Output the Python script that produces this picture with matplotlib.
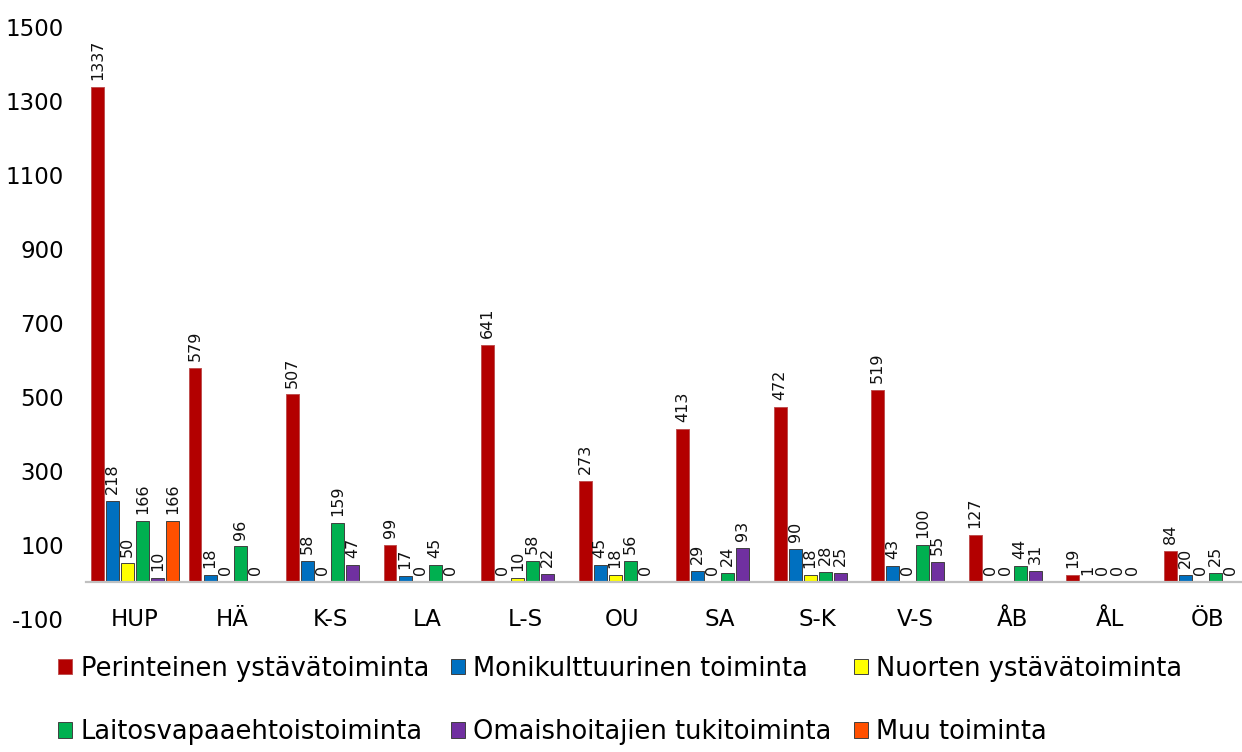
#!/usr/bin/env python3
"""Grouped bar chart of volunteer activity counts per region."""

import matplotlib
matplotlib.use("Agg")
import matplotlib.pyplot as plt
import numpy as np
from matplotlib.patches import Patch

plt.rcParams["axes.unicode_minus"] = False

CATEGORIES = ["HUP", "HÄ", "K-S", "LA", "L-S", "OU", "SA", "S-K", "V-S", "ÅB", "ÅL", "ÖB"]

PERINTEINEN = [1337, 579, 507, 99, 641, 273, 413, 472, 519, 127, 19, 84]
MONIKULTTUURINEN = [218, 18, 58, 17, 0, 45, 29, 90, 43, 0, 1, 20]
NUORTEN = [50, 0, 0, 0, 10, 18, 0, 18, 0, 0, 0, 0]
LAITOS = [166, 96, 159, 45, 58, 56, 24, 28, 100, 44, 0, 25]
OMAISHOITAJIEN = [10, 0, 47, 0, 22, 0, 93, 25, 55, 31, 0, 0]
MUU = [166, None, None, None, None, None, None, None, None, None, None, None]

SERIES = [
    ("Perinteinen ystävätoiminta", PERINTEINEN, "#b30000", "#c05050"),
    ("Monikulttuurinen toiminta", MONIKULTTUURINEN, "#0070c0", "#404040"),
    ("Nuorten ystävätoiminta", NUORTEN, "#ffff00", "#404040"),
    ("Laitosvapaaehtoistoiminta", LAITOS, "#00b050", "#404040"),
    ("Omaishoitajien tukitoiminta", OMAISHOITAJIEN, "#7030a0", "#404040"),
    ("Muu toiminta", MUU, "#ff5000", "#404040"),
]

Y_TICKS = list(range(-100, 1501, 200))


def main() -> None:
    fig = plt.figure(figsize=(12.42, 7.52), dpi=100)
    ax = fig.add_axes([86 / 1242, 0.1769, 1 - 86 / 1242, 0.787])

    x = np.arange(len(CATEGORIES))
    slot = 0.154
    width = 0.133
    n = len(SERIES)

    handles = []
    for i, (label, values, color, edge) in enumerate(SERIES):
        offset = (i - (n - 1) / 2) * slot
        for xi, v in zip(x, values):
            if v is None:
                continue
            ax.bar(xi + offset, v, width=width, color=color, edgecolor=edge, linewidth=0.7)
            ax.annotate(
                str(v),
                (xi + offset, v),
                xytext=(0, 5),
                textcoords="offset points",
                rotation=90,
                ha="center",
                va="bottom",
                fontsize=11.5,
                color="#111111",
            )
        handles.append(Patch(facecolor=color, edgecolor=edge, linewidth=0.7, label=label))

    ax.set_xlim(-0.503, 11.353)
    ax.set_ylim(-100, 1500)
    ax.set_yticks(Y_TICKS)
    ax.set_xticks(x)
    ax.set_xticklabels(CATEGORIES)
    ax.tick_params(axis="y", length=0, labelsize=16.5, pad=16)
    ax.tick_params(axis="x", length=0, labelsize=16.5, pad=19)

    for side in ["top", "right", "left"]:
        ax.spines[side].set_visible(False)
    ax.spines["bottom"].set_position(("data", 0))
    ax.spines["bottom"].set_color("#c0c0c0")
    ax.spines["bottom"].set_linewidth(1.6)

    # column-wise fill of the legend, so reorder to read row by row
    order = [0, 3, 1, 4, 2, 5]
    fig.legend(
        [handles[k] for k in order],
        [handles[k].get_label() for k in order],
        ncol=3,
        loc="upper left",
        bbox_to_anchor=(58 / 1242, 0.128),
        frameon=False,
        fontsize=18.5,
        borderpad=0,
        borderaxespad=0,
        handlelength=0.56,
        handleheight=0.56,
        handletextpad=0.32,
        columnspacing=0.85,
        labelspacing=1.45,
    )

    fig.savefig("out.png", dpi=100)
    plt.close(fig)


if __name__ == "__main__":
    main()
